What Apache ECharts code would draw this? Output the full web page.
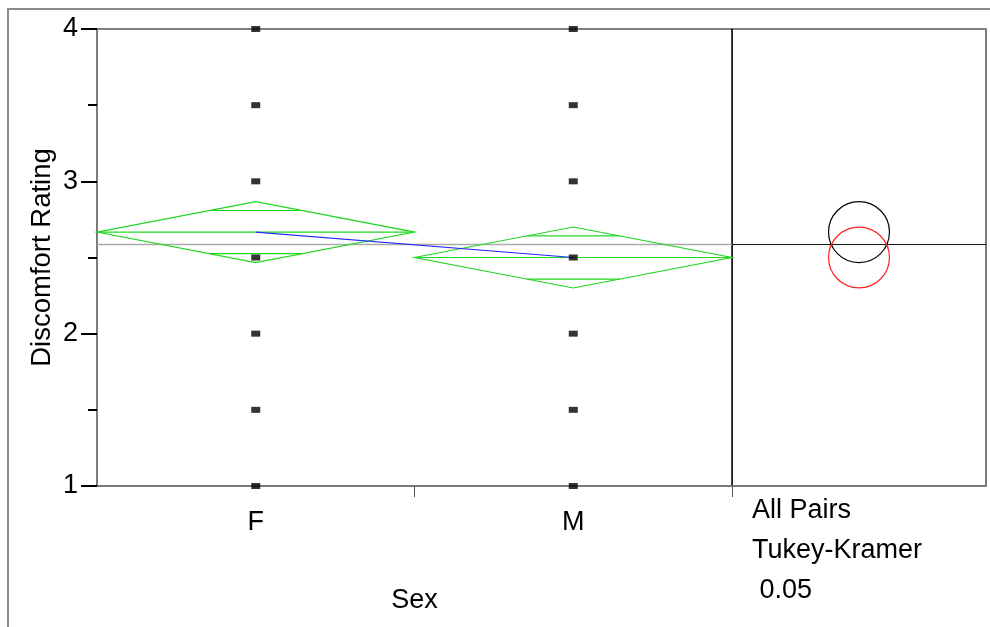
<!DOCTYPE html>
<html><head><meta charset="utf-8">
<script src="https://cdn.jsdelivr.net/npm/echarts@6/dist/echarts.min.js"></script>
<style>html,body{margin:0;padding:0;background:#fff}#c{width:990px;height:627px}</style>
</head><body><div id="c"></div>
<script>
// ---- data ----
const categories = ['F', 'M'];
const ratingsF = [1, 1.5, 2, 2.5, 3, 3.5, 4];
const ratingsM = [1, 1.5, 2, 2.5, 3, 3.5, 4];
const groupMeans = [2.667, 2.5];
const ciHalfWidths = [0.2, 0.2];
const grandMean = 2.585;
const compLabel = ['All Pairs', 'Tukey-Kramer', ' 0.05'];
const yAxisTitle = 'Discomfort Rating';
const xAxisTitle = 'Sex';

// ---- styles ----
const FONT = '"Liberation Sans", Arial, sans-serif';
const GREEN = '#22d622';
const BLUE = '#2a2aff';
const circleColors = ['#000000', '#ff2020'];
const AXIS_GRAY = '#7a7a7a';

const groupRatings = [ratingsF, ratingsM];
const pointData = [];
groupRatings.forEach((arr, i) => arr.forEach(v => pointData.push([i + 0.5, v])));
const diamondData = categories.map((c, i) => [i, groupMeans[i], ciHalfWidths[i]]);
const circleData = categories.map((c, i) => [0.5, groupMeans[i], ciHalfWidths[i], i]);

const chart = echarts.init(document.getElementById('c'), null, {renderer: 'canvas'});
chart.setOption({
  animation: false,
  backgroundColor: '#fff',
  textStyle: {fontFamily: FONT},
  title: {
    text: compLabel.join('\n'),
    left: 752, top: 491, padding: 0,
    textStyle: {fontFamily: FONT, fontSize: 27, fontWeight: 'normal', color: '#000', lineHeight: 40}
  },
  graphic: [{
    type: 'rect', silent: true, z: -1,
    shape: {x: 8, y: 9, width: 1200, height: 1200},
    style: {fill: null, stroke: '#8a8a8a', lineWidth: 2}
  }],
  grid: [
    {left: 97, right: 258, top: 29, bottom: 141, show: true, borderColor: '#000', borderWidth: 1, backgroundColor: 'transparent'},
    {left: 732, right: 4, top: 29, bottom: 141, show: true, borderColor: '#000', borderWidth: 1, backgroundColor: 'transparent'}
  ],
  xAxis: [
    {
      gridIndex: 0, type: 'value', min: 0, max: 2, interval: 0.5,
      splitLine: {show: false},
      axisLine: {show: true, onZero: false, lineStyle: {color: AXIS_GRAY, width: 1.5}},
      axisTick: {show: true, customValues: [1, 2], length: 11, lineStyle: {color: '#555', width: 1}},
      axisLabel: {
        show: true, customValues: [0.5, 1.5], margin: 23,
        fontSize: 27, color: '#000', fontFamily: FONT,
        formatter: v => categories[Math.round(v - 0.5)] || ''
      },
      name: xAxisTitle, nameLocation: 'middle', nameGap: 101,
      nameTextStyle: {fontSize: 27, color: '#000', fontFamily: FONT}
    },
    {
      gridIndex: 1, type: 'value', min: 0, max: 1,
      splitLine: {show: false},
      axisLine: {show: true, onZero: false, lineStyle: {color: AXIS_GRAY, width: 1.5}},
      axisTick: {show: false}, axisLabel: {show: false}
    }
  ],
  yAxis: [
    {
      gridIndex: 0, type: 'value', min: 1, max: 4, interval: 1,
      splitLine: {show: false},
      axisLine: {show: true, onZero: false, lineStyle: {color: AXIS_GRAY, width: 1.5}},
      axisTick: {show: true, length: 16, lineStyle: {color: '#000', width: 2}},
      minorTick: {show: true, splitNumber: 2, length: 9, lineStyle: {color: '#000', width: 2}},
      axisLabel: {margin: 19, fontSize: 27, color: '#000', fontFamily: FONT}
    },
    {
      gridIndex: 1, type: 'value', min: 1, max: 4, interval: 1,
      splitLine: {show: false},
      axisLine: {show: true, onZero: false, lineStyle: {color: '#222', width: 1}},
      axisTick: {show: false}, axisLabel: {show: false}
    },
    {
      gridIndex: 1, type: 'value', min: 1, max: 4, interval: 1, position: 'right',
      splitLine: {show: false},
      axisLine: {show: true, onZero: false, lineStyle: {color: AXIS_GRAY, width: 2}},
      axisTick: {show: false}, axisLabel: {show: false}
    },
    {
      gridIndex: 0, type: 'value', min: 1, max: 4, interval: 1, position: 'left',
      splitLine: {show: false},
      axisLine: {show: false}, axisTick: {show: false}, axisLabel: {show: false},
      name: yAxisTitle, nameLocation: 'middle', nameRotate: 90, nameGap: 41,
      nameTextStyle: {fontSize: 27.5, color: '#000', fontFamily: FONT}
    }
  ],
  series: [
    {
      type: 'line', xAxisIndex: 0, yAxisIndex: 0, z: 1,
      data: [[0, grandMean], [2, grandMean]], symbol: 'none',
      lineStyle: {color: '#aaaaaa', width: 1.5}
    },
    {
      type: 'line', xAxisIndex: 1, yAxisIndex: 1, z: 1,
      data: [[0, grandMean], [1, grandMean]], symbol: 'none',
      lineStyle: {color: '#111', width: 1}
    },
    {
      type: 'custom', xAxisIndex: 0, yAxisIndex: 0, z: 2, clip: false,
      data: diamondData,
      renderItem: function (params, api) {
        const i = api.value(0), m = api.value(1), h = api.value(2);
        const L = api.coord([i, m]), R = api.coord([i + 1, m]);
        const T = api.coord([i + 0.5, m + h]), B = api.coord([i + 0.5, m - h]);
        const k = 1 / Math.SQRT2, d = 0.5 * (1 - k);
        const u1 = api.coord([i + 0.5 - d, m + h * k]), u2 = api.coord([i + 0.5 + d, m + h * k]);
        const l1 = api.coord([i + 0.5 - d, m - h * k]), l2 = api.coord([i + 0.5 + d, m - h * k]);
        const st = {stroke: GREEN, lineWidth: 1.2, fill: null};
        const seg = (a, b) => ({type: 'line', shape: {x1: a[0], y1: a[1], x2: b[0], y2: b[1]}, style: st});
        return {type: 'group', children: [
          {type: 'polygon', shape: {points: [L, T, R, B]}, style: st},
          seg(L, R), seg(u1, u2), seg(l1, l2)
        ]};
      }
    },
    {
      type: 'line', xAxisIndex: 0, yAxisIndex: 0, z: 3,
      data: categories.map((c, i) => [i + 0.5, groupMeans[i]]), symbol: 'none',
      lineStyle: {color: BLUE, width: 1.2}
    },
    {
      type: 'scatter', xAxisIndex: 0, yAxisIndex: 0, z: 4,
      data: pointData, symbol: 'rect', symbolSize: [9, 6],
      itemStyle: {color: '#000'}
    },
    {
      type: 'custom', xAxisIndex: 1, yAxisIndex: 1, z: 3,
      data: circleData,
      renderItem: function (params, api) {
        const c = api.coord([api.value(0), api.value(1)]);
        const r = api.size([0, api.value(2)])[1];
        return {type: 'circle', shape: {cx: c[0], cy: c[1], r: r},
          style: {fill: null, stroke: circleColors[api.value(3)], lineWidth: 1.2}};
      }
    }
  ]
});
</script>
</body></html>
